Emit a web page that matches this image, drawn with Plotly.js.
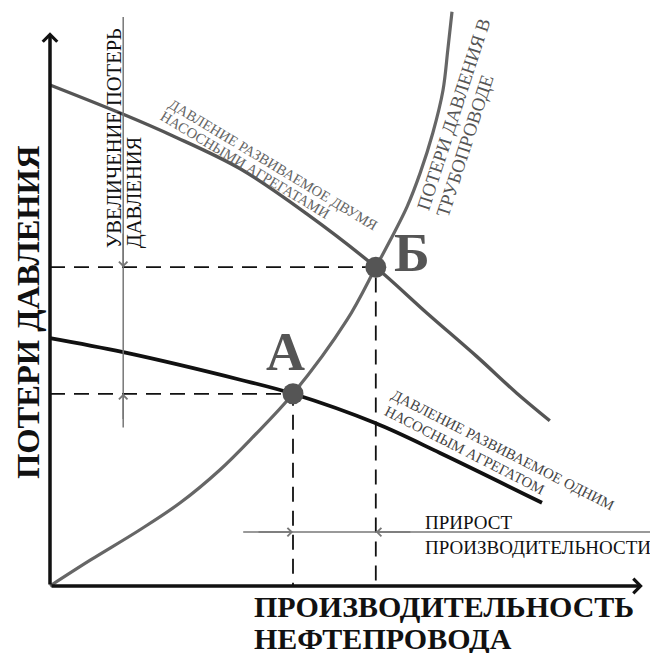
<!DOCTYPE html>
<html><head><meta charset="utf-8">
<script src="https://cdn.plot.ly/plotly-3.0.1.min.js"></script>
<style>html,body{margin:0;padding:0;background:#fff;overflow:hidden}#chart{width:650px;height:653px}</style>
</head><body><div id="chart"></div>
<script>
// Pipeline pressure-loss curve (rising)
const pipeX = [0, 0.67, 1.5, 2.17, 2.83, 3.38, 4.05, 4.95, 5.43, 5.67, 5.95, 6.17, 6.38, 6.55, 6.63, 6.70];
const pipeY = [0, 0.44, 0.96, 1.42, 1.98, 2.54, 3.28, 4.54, 5.44, 5.90, 6.47, 7.05, 7.73, 8.46, 9.15, 9.80];
// Pressure developed by two pumping units
const twoX = [0, 1.22, 2.05, 3.17, 4.28, 5.43, 6.28, 7.12, 7.78, 8.33];
const twoY = [8.55, 8.05, 7.68, 7.12, 6.35, 5.44, 4.66, 3.91, 3.29, 2.82];
// Pressure developed by one pumping unit
const oneX = [0, 1.22, 3.17, 4.05, 5.42, 6.5, 8.2];
const oneY = [4.23, 3.99, 3.52, 3.28, 2.78, 2.27, 1.42];
// Operating points
const pointNames = ['А', 'Б'];
const pointX = [4.05, 5.43];
const pointY = [3.28, 5.44];
// Texts
const xTitle = ['ПРОИЗВОДИТЕЛЬНОСТЬ', 'НЕФТЕПРОВОДА'];
const yTitle = 'ПОТЕРИ ДАВЛЕНИЯ';
const pipeLabel = ['ПОТЕРИ ДАВЛЕНИЯ В', 'ТРУБОПРОВОДЕ'];
const twoLabel = ['ДАВЛЕНИЕ РАЗВИВАЕМОЕ ДВУМЯ', 'НАСОСНЫМИ АГРЕГАТАМИ'];
const oneLabel = ['ДАВЛЕНИЕ РАЗВИВАЕМОЕ ОДНИМ', 'НАСОСНЫМ АГРЕГАТОМ'];
const incLabel = ['УВЕЛИЧЕНИЕ ПОТЕРЬ', 'ДАВЛЕНИЯ'];
const gainLabel = ['ПРИРОСТ', 'ПРОИЗВОДИТЕЛЬНОСТИ'];

const SERIF = 'Liberation Serif';
const [Ax, Bx] = pointX, [Ay, By] = pointY;

const traces = [
  {x: [0, Ax, Ax], y: [Ay, Ay, 0], mode: 'lines', line: {color: '#111', width: 1.8, dash: '15px,9px'}},
  {x: [0, Bx, Bx], y: [By, By, 0], mode: 'lines', line: {color: '#111', width: 1.8, dash: '15px,9px'}},
  {x: pipeX, y: pipeY, mode: 'lines', line: {color: '#666', width: 3.2, shape: 'spline', smoothing: 1}},
  {x: twoX, y: twoY, mode: 'lines', line: {color: '#555', width: 3.4, shape: 'spline', smoothing: 1}},
  {x: oneX, y: oneY, mode: 'lines', line: {color: '#111', width: 3.8, shape: 'spline', smoothing: 1}},
  {x: pointX, y: pointY, mode: 'markers', marker: {color: '#555', size: 21}}
];

const dimX = 1.22, dimY = 0.92;
const shapes = [
  {type: 'line', x0: dimX, x1: dimX, y0: 9.71, y1: 2.85, line: {color: '#777', width: 1.5}},
  {type: 'line', x0: 3.22, x1: 10, y0: dimY, y1: dimY, line: {color: '#777', width: 1.5}}
];

function arrow(x, y, ax, ay, color, w, size) {
  return {x, y, ax, ay, xref: 'x', yref: 'y', axref: 'x', ayref: 'y', text: '', showarrow: true,
    arrowhead: 4, arrowwidth: w, arrowsize: size, arrowcolor: color, standoff: 0, startstandoff: 0};
}
function txt(text, x, y, size, color, bold, o) {
  const t = bold ? '<b>' + text + '</b>' : text;
  return Object.assign({x, y, xref: 'x', yref: 'y', text: t, showarrow: false,
    xanchor: 'center', yanchor: 'middle', align: 'left',
    font: {family: SERIF, size: size, color: color}}, o || {});
}

const annotations = [
  arrow(9.88, 0, 0, 0, '#111', 3.5, 0.8),
  arrow(0, 9.45, 0, 0, '#111', 3.5, 0.8),
  arrow(dimX, By, dimX, By + 0.6, '#777', 1.5, 1.1),
  arrow(dimX, Ay, dimX, Ay - 0.6, '#777', 1.5, 1.1),
  arrow(Ax, dimY, Ax - 0.6, dimY, '#777', 1.5, 1.1),
  arrow(Bx, dimY, Bx + 0.6, dimY, '#777', 1.5, 1.1),
  txt(pointNames[0], 3.93, 4.00, 54, '#555', true),
  txt(pointNames[1], 6.03, 5.68, 54, '#555', true),
  txt(pipeLabel[0], 6.718, 8.053, 19, '#555', false, {textangle: -72}),
  txt(pipeLabel[1], 6.918, 7.512, 19, '#555', false, {textangle: -72}),
  txt(twoLabel[0], 3.733, 7.19, 14.5, '#666', false, {textangle: 31}),
  txt(twoLabel[1], 3.257, 7.186, 14.5, '#666', false, {textangle: 31}),
  txt(oneLabel[0], 7.548, 2.317, 14.8, '#444', false, {textangle: 27}),
  txt(oneLabel[1], 6.903, 2.319, 14.8, '#444', false, {textangle: 27}),
  txt(incLabel[0], 1.067, 5.73, 20.5, '#111', false, {textangle: -90, yanchor: 'bottom'}),
  txt(incLabel[1], 1.40, 5.73, 20.5, '#111', false, {textangle: -90, yanchor: 'bottom'}),
  txt(gainLabel[0], 6.217, 1.084, 19, '#111', false, {xanchor: 'left'}),
  txt(gainLabel[1], 6.217, 0.657, 19, '#111', false, {xanchor: 'left'}),
  txt(xTitle[0], 3.37, -0.35, 30, '#111', true, {xanchor: 'left'}),
  txt(xTitle[1], 3.37, -0.89, 30, '#111', true, {xanchor: 'left'}),
  txt(yTitle, -0.375, 4.667, 32.5, '#111', true, {textangle: -90})
];

const layout = {
  width: 650, height: 653,
  margin: {l: 0, r: 0, t: 0, b: 0},
  font: {family: SERIF},
  paper_bgcolor: '#fff', plot_bgcolor: '#fff',
  showlegend: false, hovermode: false,
  xaxis: {range: [-50 / 60, 10], visible: false, fixedrange: true},
  yaxis: {range: [-67 / 58.6, 10], visible: false, fixedrange: true},
  shapes, annotations
};
Plotly.newPlot('chart', traces, layout, {staticPlot: true});
</script>
</body></html>
